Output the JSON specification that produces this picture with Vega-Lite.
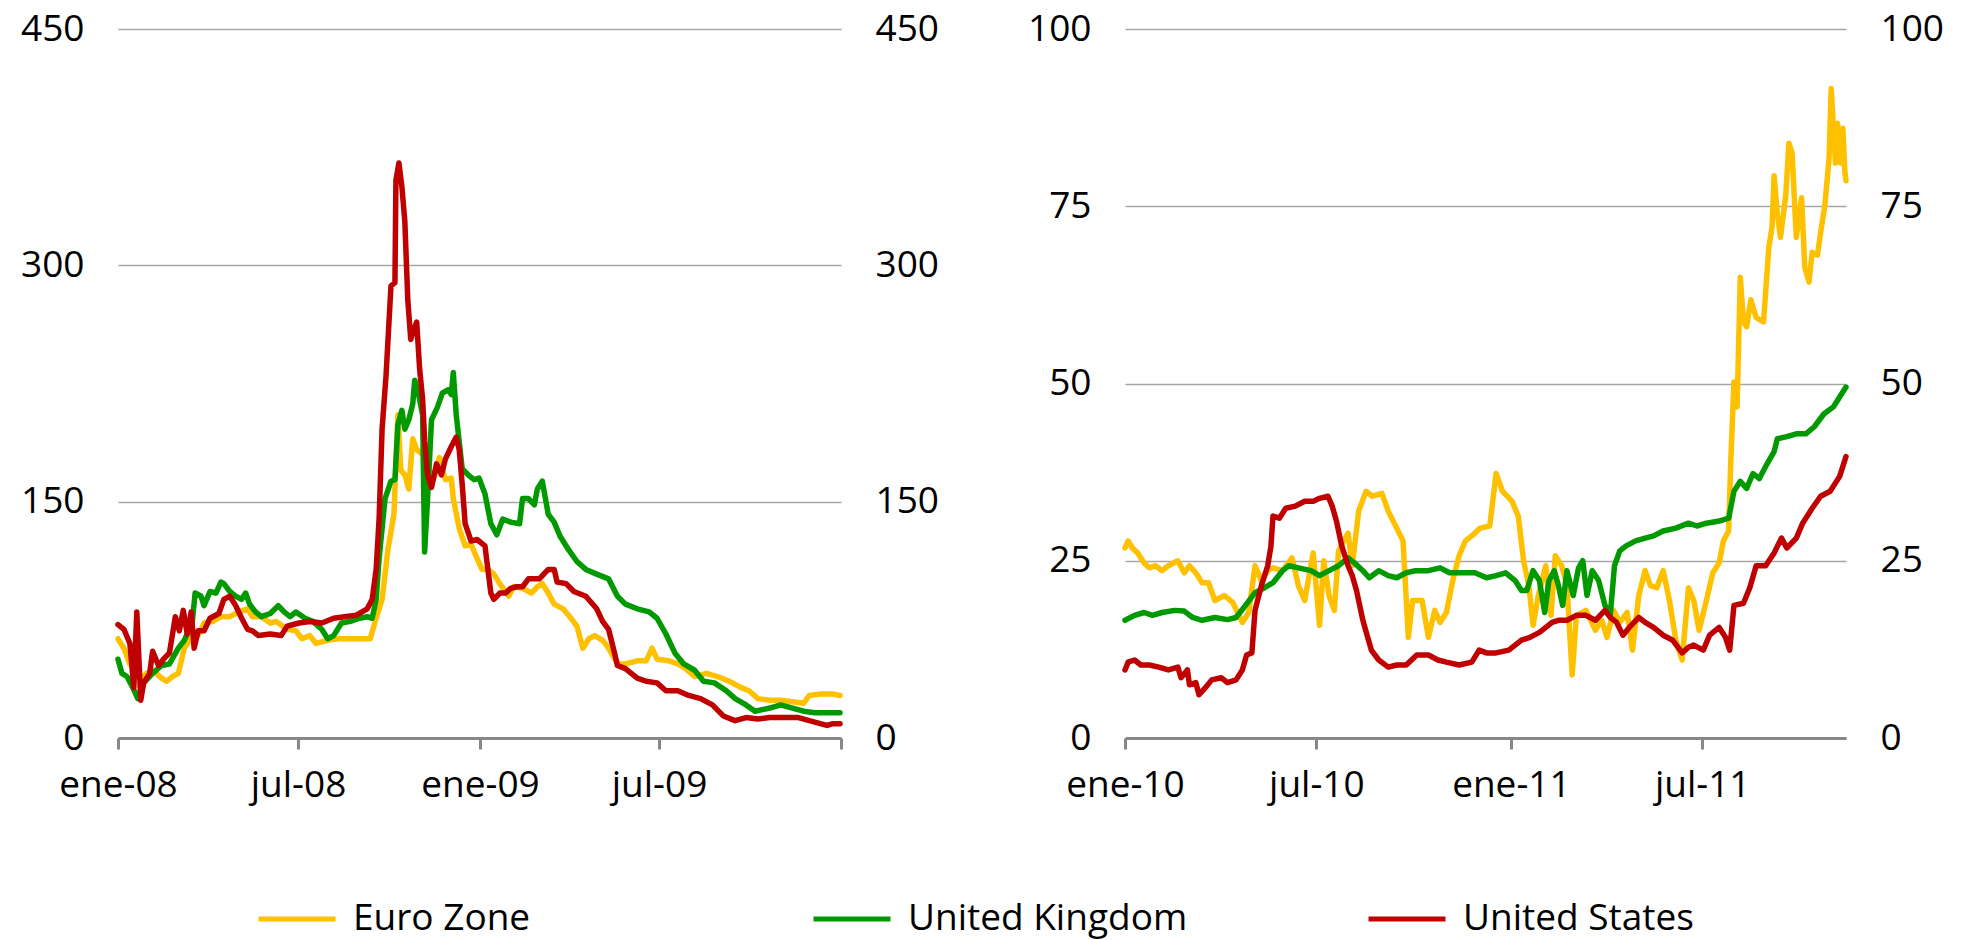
{
  "$schema": "https://vega.github.io/schema/vega-lite/v6.json",
  "padding": {"left": 20, "top": 10, "right": 5, "bottom": 5},
  "background": "white",
  "config": {
    "font": "Open Sans",
    "view": {"stroke": null},
    "axisY": {"domain": false, "ticks": false, "labelFontSize": 37, "labelColor": "#000000", "labelPadding": 34, "gridColor": "#A6A6A6", "gridWidth": 1.5, "title": null},
    "axisX": {"domainColor": "#878787", "domainWidth": 3, "tickColor": "#878787", "tickWidth": 3, "tickSize": 11, "labelFontSize": 37, "labelColor": "#000000", "labelPadding": 18, "labelFlush": false, "labelOverlap": false, "grid": false, "title": null},
    "legend": {"padding": 0}
  },
  "datasets": {
    "a": [
      {"s":"Euro Zone","d":"2008-01-01","v":63},{"s":"Euro Zone","d":"2008-01-07","v":57},{"s":"Euro Zone","d":"2008-01-13","v":47},{"s":"Euro Zone","d":"2008-01-18","v":44},{"s":"Euro Zone","d":"2008-01-24","v":38},{"s":"Euro Zone","d":"2008-01-30","v":41},{"s":"Euro Zone","d":"2008-02-05","v":43},{"s":"Euro Zone","d":"2008-02-14","v":38},{"s":"Euro Zone","d":"2008-02-19","v":36},{"s":"Euro Zone","d":"2008-02-25","v":39},{"s":"Euro Zone","d":"2008-03-02","v":41},{"s":"Euro Zone","d":"2008-03-08","v":57},{"s":"Euro Zone","d":"2008-03-14","v":63},{"s":"Euro Zone","d":"2008-03-22","v":65},{"s":"Euro Zone","d":"2008-03-28","v":73},{"s":"Euro Zone","d":"2008-04-06","v":74},{"s":"Euro Zone","d":"2008-04-14","v":77},{"s":"Euro Zone","d":"2008-04-23","v":77},{"s":"Euro Zone","d":"2008-05-02","v":80},{"s":"Euro Zone","d":"2008-05-11","v":82},{"s":"Euro Zone","d":"2008-05-16","v":77},{"s":"Euro Zone","d":"2008-05-25","v":77},{"s":"Euro Zone","d":"2008-06-03","v":73},{"s":"Euro Zone","d":"2008-06-09","v":74},{"s":"Euro Zone","d":"2008-06-20","v":69},{"s":"Euro Zone","d":"2008-06-29","v":68},{"s":"Euro Zone","d":"2008-07-05","v":63},{"s":"Euro Zone","d":"2008-07-13","v":65},{"s":"Euro Zone","d":"2008-07-19","v":60},{"s":"Euro Zone","d":"2008-07-31","v":62},{"s":"Euro Zone","d":"2008-08-11","v":63},{"s":"Euro Zone","d":"2008-08-23","v":63},{"s":"Euro Zone","d":"2008-09-04","v":63},{"s":"Euro Zone","d":"2008-09-12","v":63},{"s":"Euro Zone","d":"2008-09-18","v":76},{"s":"Euro Zone","d":"2008-09-24","v":88},{"s":"Euro Zone","d":"2008-09-30","v":120},{"s":"Euro Zone","d":"2008-10-06","v":142},{"s":"Euro Zone","d":"2008-10-10","v":205},{"s":"Euro Zone","d":"2008-10-13","v":170},{"s":"Euro Zone","d":"2008-10-17","v":167},{"s":"Euro Zone","d":"2008-10-21","v":158},{"s":"Euro Zone","d":"2008-10-25","v":190},{"s":"Euro Zone","d":"2008-10-29","v":183},{"s":"Euro Zone","d":"2008-11-04","v":180},{"s":"Euro Zone","d":"2008-11-09","v":171},{"s":"Euro Zone","d":"2008-11-15","v":164},{"s":"Euro Zone","d":"2008-11-21","v":178},{"s":"Euro Zone","d":"2008-11-27","v":164},{"s":"Euro Zone","d":"2008-12-03","v":165},{"s":"Euro Zone","d":"2008-12-05","v":152},{"s":"Euro Zone","d":"2008-12-11","v":133},{"s":"Euro Zone","d":"2008-12-17","v":122},{"s":"Euro Zone","d":"2008-12-23","v":123},{"s":"Euro Zone","d":"2008-12-29","v":114},{"s":"Euro Zone","d":"2009-01-03","v":107},{"s":"Euro Zone","d":"2009-01-09","v":107},{"s":"Euro Zone","d":"2009-01-15","v":104},{"s":"Euro Zone","d":"2009-01-21","v":98},{"s":"Euro Zone","d":"2009-01-30","v":90},{"s":"Euro Zone","d":"2009-02-04","v":96},{"s":"Euro Zone","d":"2009-02-13","v":95},{"s":"Euro Zone","d":"2009-02-22","v":92},{"s":"Euro Zone","d":"2009-02-28","v":96},{"s":"Euro Zone","d":"2009-03-05","v":98},{"s":"Euro Zone","d":"2009-03-11","v":92},{"s":"Euro Zone","d":"2009-03-17","v":85},{"s":"Euro Zone","d":"2009-03-26","v":82},{"s":"Euro Zone","d":"2009-04-03","v":76},{"s":"Euro Zone","d":"2009-04-09","v":71},{"s":"Euro Zone","d":"2009-04-15","v":57},{"s":"Euro Zone","d":"2009-04-21","v":63},{"s":"Euro Zone","d":"2009-04-27","v":65},{"s":"Euro Zone","d":"2009-05-05","v":62},{"s":"Euro Zone","d":"2009-05-11","v":57},{"s":"Euro Zone","d":"2009-05-20","v":47},{"s":"Euro Zone","d":"2009-05-28","v":47},{"s":"Euro Zone","d":"2009-06-09","v":49},{"s":"Euro Zone","d":"2009-06-18","v":49},{"s":"Euro Zone","d":"2009-06-24","v":57},{"s":"Euro Zone","d":"2009-06-29","v":50},{"s":"Euro Zone","d":"2009-07-11","v":49},{"s":"Euro Zone","d":"2009-07-20","v":47},{"s":"Euro Zone","d":"2009-07-28","v":44},{"s":"Euro Zone","d":"2009-08-06","v":39},{"s":"Euro Zone","d":"2009-08-18","v":41},{"s":"Euro Zone","d":"2009-08-29","v":39},{"s":"Euro Zone","d":"2009-09-10","v":36},{"s":"Euro Zone","d":"2009-09-22","v":32},{"s":"Euro Zone","d":"2009-09-30","v":30},{"s":"Euro Zone","d":"2009-10-09","v":25},{"s":"Euro Zone","d":"2009-10-21","v":24},{"s":"Euro Zone","d":"2009-11-01","v":24},{"s":"Euro Zone","d":"2009-11-13","v":23},{"s":"Euro Zone","d":"2009-11-24","v":22},{"s":"Euro Zone","d":"2009-11-30","v":27},{"s":"Euro Zone","d":"2009-12-12","v":28},{"s":"Euro Zone","d":"2009-12-23","v":28},{"s":"Euro Zone","d":"2009-12-31","v":27},

      {"s":"United Kingdom","d":"2008-01-01","v":50},{"s":"United Kingdom","d":"2008-01-05","v":41},{"s":"United Kingdom","d":"2008-01-10","v":39},{"s":"United Kingdom","d":"2008-01-16","v":32},{"s":"United Kingdom","d":"2008-01-21","v":25},{"s":"United Kingdom","d":"2008-01-27","v":35},{"s":"United Kingdom","d":"2008-02-05","v":41},{"s":"United Kingdom","d":"2008-02-14","v":46},{"s":"United Kingdom","d":"2008-02-22","v":47},{"s":"United Kingdom","d":"2008-03-02","v":57},{"s":"United Kingdom","d":"2008-03-08","v":62},{"s":"United Kingdom","d":"2008-03-16","v":73},{"s":"United Kingdom","d":"2008-03-19","v":92},{"s":"United Kingdom","d":"2008-03-25","v":90},{"s":"United Kingdom","d":"2008-03-28","v":84},{"s":"United Kingdom","d":"2008-04-03","v":93},{"s":"United Kingdom","d":"2008-04-09","v":92},{"s":"United Kingdom","d":"2008-04-14","v":99},{"s":"United Kingdom","d":"2008-04-17","v":98},{"s":"United Kingdom","d":"2008-04-23","v":93},{"s":"United Kingdom","d":"2008-04-29","v":90},{"s":"United Kingdom","d":"2008-05-05","v":88},{"s":"United Kingdom","d":"2008-05-09","v":92},{"s":"United Kingdom","d":"2008-05-13","v":85},{"s":"United Kingdom","d":"2008-05-19","v":80},{"s":"United Kingdom","d":"2008-05-25","v":77},{"s":"United Kingdom","d":"2008-06-03","v":79},{"s":"United Kingdom","d":"2008-06-11","v":84},{"s":"United Kingdom","d":"2008-06-17","v":80},{"s":"United Kingdom","d":"2008-06-23","v":77},{"s":"United Kingdom","d":"2008-06-29","v":80},{"s":"United Kingdom","d":"2008-07-08","v":76},{"s":"United Kingdom","d":"2008-07-16","v":74},{"s":"United Kingdom","d":"2008-07-25","v":69},{"s":"United Kingdom","d":"2008-07-31","v":63},{"s":"United Kingdom","d":"2008-08-06","v":65},{"s":"United Kingdom","d":"2008-08-14","v":73},{"s":"United Kingdom","d":"2008-08-23","v":74},{"s":"United Kingdom","d":"2008-09-01","v":76},{"s":"United Kingdom","d":"2008-09-09","v":77},{"s":"United Kingdom","d":"2008-09-14","v":76},{"s":"United Kingdom","d":"2008-09-18","v":88},{"s":"United Kingdom","d":"2008-09-21","v":114},{"s":"United Kingdom","d":"2008-09-27","v":152},{"s":"United Kingdom","d":"2008-10-03","v":163},{"s":"United Kingdom","d":"2008-10-07","v":164},{"s":"United Kingdom","d":"2008-10-10","v":199},{"s":"United Kingdom","d":"2008-10-14","v":208},{"s":"United Kingdom","d":"2008-10-17","v":196},{"s":"United Kingdom","d":"2008-10-21","v":202},{"s":"United Kingdom","d":"2008-10-25","v":212},{"s":"United Kingdom","d":"2008-10-27","v":227},{"s":"United Kingdom","d":"2008-10-30","v":221},{"s":"United Kingdom","d":"2008-11-04","v":205},{"s":"United Kingdom","d":"2008-11-06","v":118},{"s":"United Kingdom","d":"2008-11-09","v":152},{"s":"United Kingdom","d":"2008-11-13","v":202},{"s":"United Kingdom","d":"2008-11-19","v":210},{"s":"United Kingdom","d":"2008-11-24","v":219},{"s":"United Kingdom","d":"2008-11-30","v":221},{"s":"United Kingdom","d":"2008-12-03","v":218},{"s":"United Kingdom","d":"2008-12-05","v":232},{"s":"United Kingdom","d":"2008-12-08","v":205},{"s":"United Kingdom","d":"2008-12-14","v":171},{"s":"United Kingdom","d":"2008-12-20","v":167},{"s":"United Kingdom","d":"2008-12-26","v":164},{"s":"United Kingdom","d":"2008-12-31","v":165},{"s":"United Kingdom","d":"2009-01-06","v":155},{"s":"United Kingdom","d":"2009-01-12","v":136},{"s":"United Kingdom","d":"2009-01-18","v":129},{"s":"United Kingdom","d":"2009-01-24","v":139},{"s":"United Kingdom","d":"2009-02-01","v":137},{"s":"United Kingdom","d":"2009-02-10","v":136},{"s":"United Kingdom","d":"2009-02-13","v":152},{"s":"United Kingdom","d":"2009-02-19","v":152},{"s":"United Kingdom","d":"2009-02-25","v":148},{"s":"United Kingdom","d":"2009-02-28","v":158},{"s":"United Kingdom","d":"2009-03-05","v":163},{"s":"United Kingdom","d":"2009-03-11","v":142},{"s":"United Kingdom","d":"2009-03-17","v":137},{"s":"United Kingdom","d":"2009-03-23","v":128},{"s":"United Kingdom","d":"2009-03-31","v":120},{"s":"United Kingdom","d":"2009-04-09","v":112},{"s":"United Kingdom","d":"2009-04-18","v":107},{"s":"United Kingdom","d":"2009-04-29","v":104},{"s":"United Kingdom","d":"2009-05-11","v":101},{"s":"United Kingdom","d":"2009-05-20","v":90},{"s":"United Kingdom","d":"2009-05-28","v":85},{"s":"United Kingdom","d":"2009-06-09","v":82},{"s":"United Kingdom","d":"2009-06-21","v":80},{"s":"United Kingdom","d":"2009-06-29","v":76},{"s":"United Kingdom","d":"2009-07-08","v":66},{"s":"United Kingdom","d":"2009-07-17","v":54},{"s":"United Kingdom","d":"2009-07-26","v":47},{"s":"United Kingdom","d":"2009-08-06","v":43},{"s":"United Kingdom","d":"2009-08-15","v":36},{"s":"United Kingdom","d":"2009-08-26","v":35},{"s":"United Kingdom","d":"2009-09-07","v":30},{"s":"United Kingdom","d":"2009-09-16","v":25},{"s":"United Kingdom","d":"2009-09-27","v":21},{"s":"United Kingdom","d":"2009-10-06","v":17},{"s":"United Kingdom","d":"2009-10-21","v":19},{"s":"United Kingdom","d":"2009-11-01","v":21},{"s":"United Kingdom","d":"2009-11-13","v":19},{"s":"United Kingdom","d":"2009-11-24","v":17},{"s":"United Kingdom","d":"2009-12-06","v":16},{"s":"United Kingdom","d":"2009-12-20","v":16},{"s":"United Kingdom","d":"2009-12-31","v":16},

      {"s":"United States","d":"2008-01-01","v":72},{"s":"United States","d":"2008-01-07","v":69},{"s":"United States","d":"2008-01-13","v":60},{"s":"United States","d":"2008-01-17","v":32},{"s":"United States","d":"2008-01-20","v":80},{"s":"United States","d":"2008-01-24","v":24},{"s":"United States","d":"2008-01-27","v":35},{"s":"United States","d":"2008-02-02","v":41},{"s":"United States","d":"2008-02-05","v":55},{"s":"United States","d":"2008-02-11","v":46},{"s":"United States","d":"2008-02-16","v":50},{"s":"United States","d":"2008-02-22","v":54},{"s":"United States","d":"2008-02-28","v":77},{"s":"United States","d":"2008-03-03","v":68},{"s":"United States","d":"2008-03-07","v":81},{"s":"United States","d":"2008-03-11","v":66},{"s":"United States","d":"2008-03-15","v":80},{"s":"United States","d":"2008-03-18","v":57},{"s":"United States","d":"2008-03-22","v":68},{"s":"United States","d":"2008-03-28","v":68},{"s":"United States","d":"2008-04-03","v":76},{"s":"United States","d":"2008-04-12","v":79},{"s":"United States","d":"2008-04-17","v":88},{"s":"United States","d":"2008-04-23","v":90},{"s":"United States","d":"2008-04-29","v":84},{"s":"United States","d":"2008-05-05","v":76},{"s":"United States","d":"2008-05-11","v":69},{"s":"United States","d":"2008-05-16","v":68},{"s":"United States","d":"2008-05-22","v":65},{"s":"United States","d":"2008-06-03","v":66},{"s":"United States","d":"2008-06-14","v":65},{"s":"United States","d":"2008-06-20","v":71},{"s":"United States","d":"2008-07-02","v":73},{"s":"United States","d":"2008-07-13","v":74},{"s":"United States","d":"2008-07-25","v":73},{"s":"United States","d":"2008-08-06","v":76},{"s":"United States","d":"2008-08-17","v":77},{"s":"United States","d":"2008-08-29","v":78},{"s":"United States","d":"2008-09-09","v":82},{"s":"United States","d":"2008-09-14","v":88},{"s":"United States","d":"2008-09-18","v":107},{"s":"United States","d":"2008-09-21","v":139},{"s":"United States","d":"2008-09-24","v":196},{"s":"United States","d":"2008-09-28","v":230},{"s":"United States","d":"2008-10-03","v":287},{"s":"United States","d":"2008-10-07","v":289},{"s":"United States","d":"2008-10-08","v":354},{"s":"United States","d":"2008-10-11","v":365},{"s":"United States","d":"2008-10-14","v":350},{"s":"United States","d":"2008-10-17","v":328},{"s":"United States","d":"2008-10-20","v":278},{"s":"United States","d":"2008-10-23","v":253},{"s":"United States","d":"2008-10-26","v":259},{"s":"United States","d":"2008-10-29","v":264},{"s":"United States","d":"2008-11-01","v":234},{"s":"United States","d":"2008-11-04","v":215},{"s":"United States","d":"2008-11-06","v":189},{"s":"United States","d":"2008-11-09","v":167},{"s":"United States","d":"2008-11-13","v":159},{"s":"United States","d":"2008-11-18","v":174},{"s":"United States","d":"2008-11-23","v":167},{"s":"United States","d":"2008-11-27","v":177},{"s":"United States","d":"2008-12-03","v":185},{"s":"United States","d":"2008-12-08","v":191},{"s":"United States","d":"2008-12-11","v":183},{"s":"United States","d":"2008-12-14","v":161},{"s":"United States","d":"2008-12-17","v":136},{"s":"United States","d":"2008-12-23","v":125},{"s":"United States","d":"2008-12-29","v":126},{"s":"United States","d":"2009-01-06","v":122},{"s":"United States","d":"2009-01-12","v":92},{"s":"United States","d":"2009-01-15","v":88},{"s":"United States","d":"2009-01-21","v":92},{"s":"United States","d":"2009-01-27","v":92},{"s":"United States","d":"2009-02-01","v":95},{"s":"United States","d":"2009-02-07","v":96},{"s":"United States","d":"2009-02-13","v":96},{"s":"United States","d":"2009-02-19","v":101},{"s":"United States","d":"2009-03-02","v":101},{"s":"United States","d":"2009-03-11","v":107},{"s":"United States","d":"2009-03-17","v":107},{"s":"United States","d":"2009-03-20","v":99},{"s":"United States","d":"2009-03-29","v":98},{"s":"United States","d":"2009-04-06","v":93},{"s":"United States","d":"2009-04-18","v":90},{"s":"United States","d":"2009-04-29","v":82},{"s":"United States","d":"2009-05-05","v":74},{"s":"United States","d":"2009-05-11","v":69},{"s":"United States","d":"2009-05-17","v":54},{"s":"United States","d":"2009-05-20","v":46},{"s":"United States","d":"2009-05-28","v":44},{"s":"United States","d":"2009-06-03","v":41},{"s":"United States","d":"2009-06-09","v":38},{"s":"United States","d":"2009-06-18","v":36},{"s":"United States","d":"2009-06-29","v":35},{"s":"United States","d":"2009-07-08","v":30},{"s":"United States","d":"2009-07-20","v":30},{"s":"United States","d":"2009-07-31","v":27},{"s":"United States","d":"2009-08-12","v":25},{"s":"United States","d":"2009-08-24","v":21},{"s":"United States","d":"2009-09-04","v":14},{"s":"United States","d":"2009-09-16","v":11},{"s":"United States","d":"2009-09-27","v":13},{"s":"United States","d":"2009-10-09","v":12},{"s":"United States","d":"2009-10-21","v":13},{"s":"United States","d":"2009-11-01","v":13},{"s":"United States","d":"2009-11-19","v":13},{"s":"United States","d":"2009-11-30","v":11},{"s":"United States","d":"2009-12-12","v":9},{"s":"United States","d":"2009-12-18","v":8},{"s":"United States","d":"2009-12-23","v":9},{"s":"United States","d":"2009-12-31","v":9}
    ],
    "b": [
      {"s":"Euro Zone","d":"2010-01-01","v":26.8},{"s":"Euro Zone","d":"2010-01-04","v":27.8},{"s":"Euro Zone","d":"2010-01-08","v":26.8},{"s":"Euro Zone","d":"2010-01-13","v":26.1},{"s":"Euro Zone","d":"2010-01-19","v":24.7},{"s":"Euro Zone","d":"2010-01-24","v":24},{"s":"Euro Zone","d":"2010-01-30","v":24.3},{"s":"Euro Zone","d":"2010-02-05","v":23.6},{"s":"Euro Zone","d":"2010-02-11","v":24.3},{"s":"Euro Zone","d":"2010-02-20","v":25},{"s":"Euro Zone","d":"2010-02-26","v":23.3},{"s":"Euro Zone","d":"2010-03-03","v":24.3},{"s":"Euro Zone","d":"2010-03-09","v":23.3},{"s":"Euro Zone","d":"2010-03-15","v":21.9},{"s":"Euro Zone","d":"2010-03-21","v":21.9},{"s":"Euro Zone","d":"2010-03-27","v":19.4},{"s":"Euro Zone","d":"2010-04-05","v":20.1},{"s":"Euro Zone","d":"2010-04-13","v":19.1},{"s":"Euro Zone","d":"2010-04-22","v":16.3},{"s":"Euro Zone","d":"2010-04-28","v":17.7},{"s":"Euro Zone","d":"2010-05-04","v":24.3},{"s":"Euro Zone","d":"2010-05-10","v":22.2},{"s":"Euro Zone","d":"2010-05-16","v":23.6},{"s":"Euro Zone","d":"2010-05-21","v":24},{"s":"Euro Zone","d":"2010-05-30","v":23.6},{"s":"Euro Zone","d":"2010-06-08","v":25.4},{"s":"Euro Zone","d":"2010-06-14","v":21.5},{"s":"Euro Zone","d":"2010-06-20","v":19.4},{"s":"Euro Zone","d":"2010-06-28","v":26.1},{"s":"Euro Zone","d":"2010-07-04","v":15.9},{"s":"Euro Zone","d":"2010-07-08","v":25},{"s":"Euro Zone","d":"2010-07-13","v":20.1},{"s":"Euro Zone","d":"2010-07-18","v":18},{"s":"Euro Zone","d":"2010-07-22","v":26.4},{"s":"Euro Zone","d":"2010-07-31","v":28.9},{"s":"Euro Zone","d":"2010-08-04","v":24.3},{"s":"Euro Zone","d":"2010-08-10","v":32},{"s":"Euro Zone","d":"2010-08-17","v":34.8},{"s":"Euro Zone","d":"2010-08-23","v":34.1},{"s":"Euro Zone","d":"2010-09-01","v":34.5},{"s":"Euro Zone","d":"2010-09-07","v":32},{"s":"Euro Zone","d":"2010-09-15","v":29.6},{"s":"Euro Zone","d":"2010-09-21","v":27.8},{"s":"Euro Zone","d":"2010-09-26","v":14.2},{"s":"Euro Zone","d":"2010-09-30","v":19.4},{"s":"Euro Zone","d":"2010-10-09","v":19.4},{"s":"Euro Zone","d":"2010-10-15","v":14.2},{"s":"Euro Zone","d":"2010-10-21","v":18},{"s":"Euro Zone","d":"2010-10-26","v":16.3},{"s":"Euro Zone","d":"2010-11-01","v":17.7},{"s":"Euro Zone","d":"2010-11-07","v":22.2},{"s":"Euro Zone","d":"2010-11-13","v":25.7},{"s":"Euro Zone","d":"2010-11-19","v":27.8},{"s":"Euro Zone","d":"2010-11-25","v":28.5},{"s":"Euro Zone","d":"2010-12-03","v":29.6},{"s":"Euro Zone","d":"2010-12-12","v":29.9},{"s":"Euro Zone","d":"2010-12-18","v":37.3},{"s":"Euro Zone","d":"2010-12-24","v":34.8},{"s":"Euro Zone","d":"2011-01-02","v":33.4},{"s":"Euro Zone","d":"2011-01-08","v":31.3},{"s":"Euro Zone","d":"2011-01-13","v":25},{"s":"Euro Zone","d":"2011-01-18","v":21.5},{"s":"Euro Zone","d":"2011-01-22","v":15.9},{"s":"Euro Zone","d":"2011-01-27","v":20.1},{"s":"Euro Zone","d":"2011-02-03","v":24.3},{"s":"Euro Zone","d":"2011-02-08","v":17.3},{"s":"Euro Zone","d":"2011-02-12","v":25.7},{"s":"Euro Zone","d":"2011-02-18","v":24.3},{"s":"Euro Zone","d":"2011-02-23","v":21.5},{"s":"Euro Zone","d":"2011-02-28","v":8.9},{"s":"Euro Zone","d":"2011-03-04","v":17.3},{"s":"Euro Zone","d":"2011-03-13","v":18},{"s":"Euro Zone","d":"2011-03-22","v":15.2},{"s":"Euro Zone","d":"2011-03-28","v":16.6},{"s":"Euro Zone","d":"2011-04-02","v":14.2},{"s":"Euro Zone","d":"2011-04-08","v":18},{"s":"Euro Zone","d":"2011-04-14","v":16.3},{"s":"Euro Zone","d":"2011-04-21","v":17.7},{"s":"Euro Zone","d":"2011-04-26","v":12.4},{"s":"Euro Zone","d":"2011-05-02","v":20.1},{"s":"Euro Zone","d":"2011-05-08","v":23.6},{"s":"Euro Zone","d":"2011-05-13","v":21.5},{"s":"Euro Zone","d":"2011-05-19","v":21.2},{"s":"Euro Zone","d":"2011-05-25","v":23.6},{"s":"Euro Zone","d":"2011-05-31","v":19.4},{"s":"Euro Zone","d":"2011-06-06","v":13.8},{"s":"Euro Zone","d":"2011-06-12","v":11},{"s":"Euro Zone","d":"2011-06-18","v":21.2},{"s":"Euro Zone","d":"2011-06-23","v":19.4},{"s":"Euro Zone","d":"2011-06-28","v":15.2},{"s":"Euro Zone","d":"2011-07-05","v":19.4},{"s":"Euro Zone","d":"2011-07-11","v":23.3},{"s":"Euro Zone","d":"2011-07-17","v":24.7},{"s":"Euro Zone","d":"2011-07-21","v":27.8},{"s":"Euro Zone","d":"2011-07-26","v":29.2},{"s":"Euro Zone","d":"2011-07-28","v":39},{"s":"Euro Zone","d":"2011-07-31","v":50.2},{"s":"Euro Zone","d":"2011-08-03","v":46.7},{"s":"Euro Zone","d":"2011-08-06","v":65},{"s":"Euro Zone","d":"2011-08-09","v":58.7},{"s":"Euro Zone","d":"2011-08-12","v":58},{"s":"Euro Zone","d":"2011-08-16","v":61.8},{"s":"Euro Zone","d":"2011-08-21","v":59.3},{"s":"Euro Zone","d":"2011-08-28","v":58.7},{"s":"Euro Zone","d":"2011-09-02","v":69.2},{"s":"Euro Zone","d":"2011-09-05","v":72},{"s":"Euro Zone","d":"2011-09-07","v":79.3},{"s":"Euro Zone","d":"2011-09-10","v":74},{"s":"Euro Zone","d":"2011-09-13","v":70.6},{"s":"Euro Zone","d":"2011-09-18","v":76.5},{"s":"Euro Zone","d":"2011-09-21","v":83.9},{"s":"Euro Zone","d":"2011-09-24","v":82.5},{"s":"Euro Zone","d":"2011-09-28","v":70.6},{"s":"Euro Zone","d":"2011-10-03","v":76.2},{"s":"Euro Zone","d":"2011-10-06","v":66.4},{"s":"Euro Zone","d":"2011-10-10","v":64.3},{"s":"Euro Zone","d":"2011-10-13","v":68.5},{"s":"Euro Zone","d":"2011-10-18","v":68.1},{"s":"Euro Zone","d":"2011-10-21","v":71.3},{"s":"Euro Zone","d":"2011-10-25","v":75.1},{"s":"Euro Zone","d":"2011-10-29","v":81.8},{"s":"Euro Zone","d":"2011-10-31","v":91.6},{"s":"Euro Zone","d":"2011-11-04","v":81.1},{"s":"Euro Zone","d":"2011-11-06","v":86.7},{"s":"Euro Zone","d":"2011-11-09","v":81.1},{"s":"Euro Zone","d":"2011-11-11","v":86},{"s":"Euro Zone","d":"2011-11-13","v":79.7},{"s":"Euro Zone","d":"2011-11-14","v":78.6},

      {"s":"United Kingdom","d":"2010-01-01","v":16.6},{"s":"United Kingdom","d":"2010-01-10","v":17.3},{"s":"United Kingdom","d":"2010-01-19","v":17.7},{"s":"United Kingdom","d":"2010-01-27","v":17.3},{"s":"United Kingdom","d":"2010-02-05","v":17.7},{"s":"United Kingdom","d":"2010-02-17","v":18},{"s":"United Kingdom","d":"2010-02-26","v":17.9},{"s":"United Kingdom","d":"2010-03-06","v":17},{"s":"United Kingdom","d":"2010-03-15","v":16.6},{"s":"United Kingdom","d":"2010-03-27","v":17},{"s":"United Kingdom","d":"2010-04-08","v":16.7},{"s":"United Kingdom","d":"2010-04-16","v":17},{"s":"United Kingdom","d":"2010-04-25","v":18.7},{"s":"United Kingdom","d":"2010-05-04","v":20.5},{"s":"United Kingdom","d":"2010-05-13","v":21.2},{"s":"United Kingdom","d":"2010-05-21","v":21.9},{"s":"United Kingdom","d":"2010-05-30","v":23.6},{"s":"United Kingdom","d":"2010-06-05","v":24.3},{"s":"United Kingdom","d":"2010-06-14","v":24},{"s":"United Kingdom","d":"2010-06-26","v":23.6},{"s":"United Kingdom","d":"2010-07-04","v":22.9},{"s":"United Kingdom","d":"2010-07-13","v":23.6},{"s":"United Kingdom","d":"2010-07-22","v":24.3},{"s":"United Kingdom","d":"2010-07-31","v":25.4},{"s":"United Kingdom","d":"2010-08-06","v":24.7},{"s":"United Kingdom","d":"2010-08-14","v":23.6},{"s":"United Kingdom","d":"2010-08-20","v":22.6},{"s":"United Kingdom","d":"2010-08-29","v":23.6},{"s":"United Kingdom","d":"2010-09-07","v":22.9},{"s":"United Kingdom","d":"2010-09-15","v":22.6},{"s":"United Kingdom","d":"2010-09-24","v":23.3},{"s":"United Kingdom","d":"2010-10-03","v":23.6},{"s":"United Kingdom","d":"2010-10-15","v":23.6},{"s":"United Kingdom","d":"2010-10-26","v":24},{"s":"United Kingdom","d":"2010-11-04","v":23.3},{"s":"United Kingdom","d":"2010-11-16","v":23.3},{"s":"United Kingdom","d":"2010-11-28","v":23.3},{"s":"United Kingdom","d":"2010-12-09","v":22.6},{"s":"United Kingdom","d":"2010-12-18","v":22.9},{"s":"United Kingdom","d":"2010-12-27","v":23.3},{"s":"United Kingdom","d":"2011-01-05","v":22.2},{"s":"United Kingdom","d":"2011-01-11","v":20.8},{"s":"United Kingdom","d":"2011-01-16","v":20.8},{"s":"United Kingdom","d":"2011-01-22","v":23.6},{"s":"United Kingdom","d":"2011-01-28","v":22.2},{"s":"United Kingdom","d":"2011-02-02","v":17.7},{"s":"United Kingdom","d":"2011-02-06","v":22.2},{"s":"United Kingdom","d":"2011-02-11","v":23.6},{"s":"United Kingdom","d":"2011-02-15","v":21.5},{"s":"United Kingdom","d":"2011-02-19","v":18.7},{"s":"United Kingdom","d":"2011-02-23","v":23.6},{"s":"United Kingdom","d":"2011-03-01","v":20.1},{"s":"United Kingdom","d":"2011-03-06","v":24},{"s":"United Kingdom","d":"2011-03-10","v":25},{"s":"United Kingdom","d":"2011-03-14","v":20.1},{"s":"United Kingdom","d":"2011-03-19","v":23.6},{"s":"United Kingdom","d":"2011-03-25","v":22.2},{"s":"United Kingdom","d":"2011-03-31","v":18.7},{"s":"United Kingdom","d":"2011-04-05","v":17.3},{"s":"United Kingdom","d":"2011-04-09","v":24.3},{"s":"United Kingdom","d":"2011-04-14","v":26.4},{"s":"United Kingdom","d":"2011-04-20","v":27.1},{"s":"United Kingdom","d":"2011-04-29","v":27.8},{"s":"United Kingdom","d":"2011-05-08","v":28.2},{"s":"United Kingdom","d":"2011-05-16","v":28.5},{"s":"United Kingdom","d":"2011-05-25","v":29.2},{"s":"United Kingdom","d":"2011-06-06","v":29.6},{"s":"United Kingdom","d":"2011-06-18","v":30.3},{"s":"United Kingdom","d":"2011-06-26","v":29.9},{"s":"United Kingdom","d":"2011-07-05","v":30.3},{"s":"United Kingdom","d":"2011-07-17","v":30.6},{"s":"United Kingdom","d":"2011-07-26","v":31},{"s":"United Kingdom","d":"2011-07-31","v":34.8},{"s":"United Kingdom","d":"2011-08-06","v":36.2},{"s":"United Kingdom","d":"2011-08-12","v":35.2},{"s":"United Kingdom","d":"2011-08-18","v":37.3},{"s":"United Kingdom","d":"2011-08-24","v":36.6},{"s":"United Kingdom","d":"2011-08-30","v":38.3},{"s":"United Kingdom","d":"2011-09-07","v":40.4},{"s":"United Kingdom","d":"2011-09-10","v":42.2},{"s":"United Kingdom","d":"2011-09-19","v":42.5},{"s":"United Kingdom","d":"2011-09-28","v":42.9},{"s":"United Kingdom","d":"2011-10-07","v":42.9},{"s":"United Kingdom","d":"2011-10-15","v":43.9},{"s":"United Kingdom","d":"2011-10-24","v":45.7},{"s":"United Kingdom","d":"2011-11-02","v":46.7},{"s":"United Kingdom","d":"2011-11-08","v":48.1},{"s":"United Kingdom","d":"2011-11-14","v":49.5},

      {"s":"United States","d":"2010-01-01","v":9.6},{"s":"United States","d":"2010-01-04","v":10.7},{"s":"United States","d":"2010-01-10","v":11},{"s":"United States","d":"2010-01-16","v":10.3},{"s":"United States","d":"2010-01-24","v":10.3},{"s":"United States","d":"2010-02-02","v":10},{"s":"United States","d":"2010-02-11","v":9.6},{"s":"United States","d":"2010-02-20","v":10},{"s":"United States","d":"2010-02-23","v":8.5},{"s":"United States","d":"2010-03-01","v":9.6},{"s":"United States","d":"2010-03-03","v":7.5},{"s":"United States","d":"2010-03-09","v":7.8},{"s":"United States","d":"2010-03-12","v":6.1},{"s":"United States","d":"2010-03-18","v":7.1},{"s":"United States","d":"2010-03-24","v":8.2},{"s":"United States","d":"2010-04-02","v":8.5},{"s":"United States","d":"2010-04-08","v":7.8},{"s":"United States","d":"2010-04-16","v":8.2},{"s":"United States","d":"2010-04-22","v":9.6},{"s":"United States","d":"2010-04-26","v":11.7},{"s":"United States","d":"2010-05-01","v":12},{"s":"United States","d":"2010-05-04","v":18},{"s":"United States","d":"2010-05-10","v":21.5},{"s":"United States","d":"2010-05-16","v":24.3},{"s":"United States","d":"2010-05-19","v":27},{"s":"United States","d":"2010-05-21","v":31.3},{"s":"United States","d":"2010-05-27","v":31},{"s":"United States","d":"2010-06-02","v":32.4},{"s":"United States","d":"2010-06-11","v":32.7},{"s":"United States","d":"2010-06-20","v":33.4},{"s":"United States","d":"2010-06-28","v":33.4},{"s":"United States","d":"2010-07-04","v":33.8},{"s":"United States","d":"2010-07-12","v":34.1},{"s":"United States","d":"2010-07-16","v":32.7},{"s":"United States","d":"2010-07-20","v":30.6},{"s":"United States","d":"2010-07-25","v":27.1},{"s":"United States","d":"2010-07-31","v":24.3},{"s":"United States","d":"2010-08-04","v":22.9},{"s":"United States","d":"2010-08-08","v":20.8},{"s":"United States","d":"2010-08-14","v":16.6},{"s":"United States","d":"2010-08-18","v":14.5},{"s":"United States","d":"2010-08-22","v":12.4},{"s":"United States","d":"2010-08-29","v":11},{"s":"United States","d":"2010-09-07","v":10},{"s":"United States","d":"2010-09-15","v":10.3},{"s":"United States","d":"2010-09-24","v":10.3},{"s":"United States","d":"2010-10-04","v":11.7},{"s":"United States","d":"2010-10-15","v":11.7},{"s":"United States","d":"2010-10-24","v":11},{"s":"United States","d":"2010-11-01","v":10.7},{"s":"United States","d":"2010-11-13","v":10.3},{"s":"United States","d":"2010-11-25","v":10.7},{"s":"United States","d":"2010-12-02","v":12.4},{"s":"United States","d":"2010-12-09","v":12},{"s":"United States","d":"2010-12-18","v":12},{"s":"United States","d":"2010-12-30","v":12.4},{"s":"United States","d":"2011-01-11","v":13.8},{"s":"United States","d":"2011-01-19","v":14.2},{"s":"United States","d":"2011-01-28","v":14.9},{"s":"United States","d":"2011-02-09","v":16.3},{"s":"United States","d":"2011-02-15","v":16.6},{"s":"United States","d":"2011-02-23","v":16.6},{"s":"United States","d":"2011-03-04","v":17.3},{"s":"United States","d":"2011-03-13","v":17.3},{"s":"United States","d":"2011-03-22","v":16.6},{"s":"United States","d":"2011-03-31","v":18},{"s":"United States","d":"2011-04-05","v":17},{"s":"United States","d":"2011-04-11","v":16.3},{"s":"United States","d":"2011-04-17","v":14.5},{"s":"United States","d":"2011-04-23","v":15.6},{"s":"United States","d":"2011-05-02","v":17},{"s":"United States","d":"2011-05-08","v":16.3},{"s":"United States","d":"2011-05-16","v":15.6},{"s":"United States","d":"2011-05-25","v":14.5},{"s":"United States","d":"2011-06-03","v":13.8},{"s":"United States","d":"2011-06-12","v":12},{"s":"United States","d":"2011-06-18","v":12.8},{"s":"United States","d":"2011-06-23","v":13.1},{"s":"United States","d":"2011-07-02","v":12.4},{"s":"United States","d":"2011-07-08","v":14.5},{"s":"United States","d":"2011-07-17","v":15.6},{"s":"United States","d":"2011-07-23","v":14.2},{"s":"United States","d":"2011-07-27","v":12.4},{"s":"United States","d":"2011-07-31","v":18.7},{"s":"United States","d":"2011-08-09","v":19},{"s":"United States","d":"2011-08-15","v":21.2},{"s":"United States","d":"2011-08-21","v":24.3},{"s":"United States","d":"2011-08-30","v":24.3},{"s":"United States","d":"2011-09-07","v":26.1},{"s":"United States","d":"2011-09-14","v":28.2},{"s":"United States","d":"2011-09-19","v":26.8},{"s":"United States","d":"2011-09-28","v":28.2},{"s":"United States","d":"2011-10-04","v":30.3},{"s":"United States","d":"2011-10-13","v":32.4},{"s":"United States","d":"2011-10-21","v":34.1},{"s":"United States","d":"2011-10-30","v":34.8},{"s":"United States","d":"2011-11-08","v":36.9},{"s":"United States","d":"2011-11-14","v":39.7}
    ]
  },
  "spacing": 88,
  "hconcat": [
    {
      "width": 723,
      "height": 709,
      "data": {"name": "a"},
      "layer": [
        {
          "mark": {"type": "line", "strokeWidth": 5.5, "strokeJoin": "round", "strokeCap": "round"},
          "encoding": {
            "x": {"field": "d", "type": "temporal", "scale": {"type": "utc", "domain": [{"year": 2008, "month": 1, "date": 1, "utc": true}, {"year": 2010, "month": 1, "date": 1, "utc": true}]},
              "axis": {"values": [{"year": 2008, "month": 1, "date": 1, "utc": true}, {"year": 2008, "month": 7, "date": 1, "utc": true}, {"year": 2009, "month": 1, "date": 1, "utc": true}, {"year": 2009, "month": 7, "date": 1, "utc": true}, {"year": 2010, "month": 1, "date": 1, "utc": true}],
                "labelExpr": "utcyear(datum.value) == 2010 ? '' : (utcmonth(datum.value) == 0 ? 'ene-' : 'jul-') + utcFormat(datum.value, '%y')"}},
            "y": {"field": "v", "type": "quantitative", "scale": {"domain": [0, 450]}, "axis": {"orient": "left", "values": [0, 150, 300, 450], "grid": true}},
            "color": {"field": "s", "type": "nominal", "scale": {"domain": ["Euro Zone", "United Kingdom", "United States"], "range": ["#FFC000", "#009900", "#C00000"]},
              "legend": {"title": null, "orient": "none", "legendX": 138, "legendY": 849, "direction": "horizontal", "symbolType": "stroke", "symbolSize": 5929, "symbolStrokeWidth": 5, "labelFontSize": 37, "labelColor": "#000000", "labelOffset": 15, "columnPadding": 170, "gridAlign": "all", "labelLimit": 500}}
          }
        },
        {
          "mark": {"type": "line", "strokeOpacity": 0},
          "encoding": {
            "x": {"field": "d", "type": "temporal"},
            "y": {"field": "v", "type": "quantitative", "axis": {"orient": "right", "values": [0, 150, 300, 450], "grid": false}},
            "detail": {"field": "s"}
          }
        }
      ],
      "resolve": {"axis": {"y": "independent"}}
    },
    {
      "width": 721,
      "height": 709,
      "data": {"name": "b"},
      "layer": [
        {
          "mark": {"type": "line", "strokeWidth": 5.5, "strokeJoin": "round", "strokeCap": "round"},
          "encoding": {
            "x": {"field": "d", "type": "temporal", "scale": {"type": "utc", "domain": [{"year": 2010, "month": 1, "date": 1, "utc": true}, {"year": 2011, "month": 11, "date": 14, "utc": true}]},
              "axis": {"values": [{"year": 2010, "month": 1, "date": 1, "utc": true}, {"year": 2010, "month": 7, "date": 1, "utc": true}, {"year": 2011, "month": 1, "date": 1, "utc": true}, {"year": 2011, "month": 7, "date": 1, "utc": true}],
                "labelExpr": "(utcmonth(datum.value) == 0 ? 'ene-' : 'jul-') + utcFormat(datum.value, '%y')"}},
            "y": {"field": "v", "type": "quantitative", "scale": {"domain": [0, 100]}, "axis": {"orient": "left", "values": [0, 25, 50, 75, 100], "grid": true}},
            "color": {"field": "s", "type": "nominal"}
          }
        },
        {
          "mark": {"type": "line", "strokeOpacity": 0},
          "encoding": {
            "x": {"field": "d", "type": "temporal"},
            "y": {"field": "v", "type": "quantitative", "axis": {"orient": "right", "values": [0, 25, 50, 75, 100], "grid": false}},
            "detail": {"field": "s"}
          }
        }
      ],
      "resolve": {"axis": {"y": "independent"}}
    }
  ]
}
